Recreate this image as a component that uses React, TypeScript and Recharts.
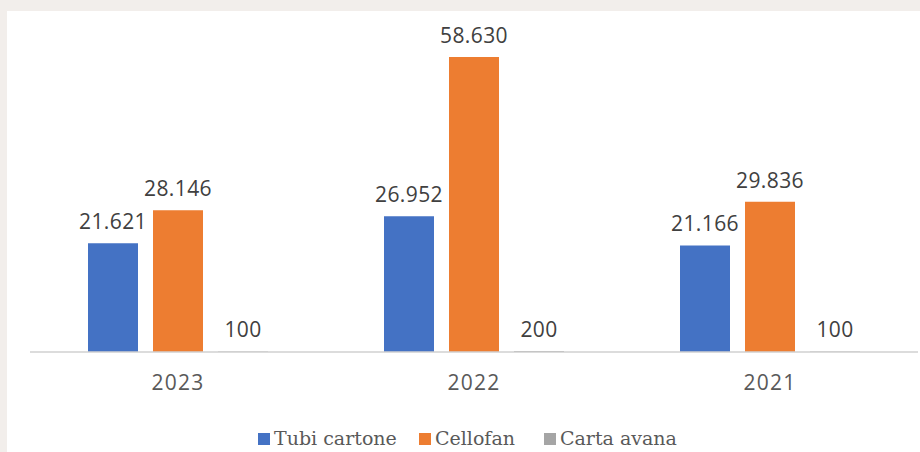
import { BarChart, Bar, XAxis, YAxis, Legend, LabelList } from 'recharts';

const years = ['2023', '2022', '2021'];
const tubiCartone = [21621, 26952, 21166];
const cellofan = [28146, 58630, 29836];
const cartaAvana = [100, 200, 100];

const series = [
  { key: 'tubi', name: 'Tubi cartone', color: '#4472C4', values: tubiCartone },
  { key: 'cello', name: 'Cellofan', color: '#ED7D31', values: cellofan },
  { key: 'carta', name: 'Carta avana', color: '#A5A5A5', values: cartaAvana },
];

const data = years.map((year, i) => ({
  year,
  tubi: tubiCartone[i],
  cello: cellofan[i],
  carta: cartaAvana[i],
}));

// formato italiano: punto come separatore delle migliaia
const fmt = (v: number) => v.toLocaleString('it-IT');

const legendX = [251, 412, 537];

function LegendContent() {
  return (
    <svg width={913} height={30} style={{ display: 'block' }}>
      {series.map((s, i) => (
        <g key={s.key}>
          <rect x={legendX[i]} y={11} width={12} height={12} fill={s.color} />
          <text
            x={legendX[i] + 16}
            y={23}
            style={{ fontFamily: "'DejaVu Serif'" }}
            fontSize={19}
            fill="#595959"
          >
            {s.name}
          </text>
        </g>
      ))}
    </svg>
  );
}

export default function App() {
  return (
    <div
      style={{
        position: 'fixed',
        left: 0,
        top: 0,
        width: 920,
        height: 452,
        background: '#f2eeeb',
      }}
    >
      <div
        style={{
          position: 'absolute',
          left: 7,
          top: 11,
          width: 913,
          height: 441,
          background: '#ffffff',
        }}
      >
        <BarChart
          width={913}
          height={441}
          data={data}
          margin={{ top: 39, right: 2, left: 23, bottom: 0 }}
          barSize={50}
          barGap={15}
        >
          <XAxis
            dataKey="year"
            height={70}
            tickLine={false}
            axisLine={{ stroke: '#d0d0d0', strokeWidth: 1.5 }}
            tickMargin={17}
            tick={{
              fontSize: 21,
              fill: '#595959',
              fontFamily: '"Open Sans", sans-serif',
              letterSpacing: 1.2,
            }}
          />
          <YAxis hide domain={[0, 60000]} />
          <Legend
            verticalAlign="bottom"
            height={30}
            wrapperStyle={{ bottom: 0, left: 0 }}
            content={<LegendContent />}
          />
          {series.map((s) => (
            <Bar
              key={s.key}
              dataKey={s.key}
              name={s.name}
              fill={s.color}
              isAnimationActive={false}
            >
              <LabelList
                dataKey={s.key}
                position="top"
                offset={14}
                formatter={(v: number) => fmt(v)}
                style={{
                  fontSize: 21,
                  fill: '#404040',
                  fontFamily: '"Open Sans", sans-serif',
                  letterSpacing: 0.4,
                }}
              />
            </Bar>
          ))}
        </BarChart>
      </div>
    </div>
  );
}
